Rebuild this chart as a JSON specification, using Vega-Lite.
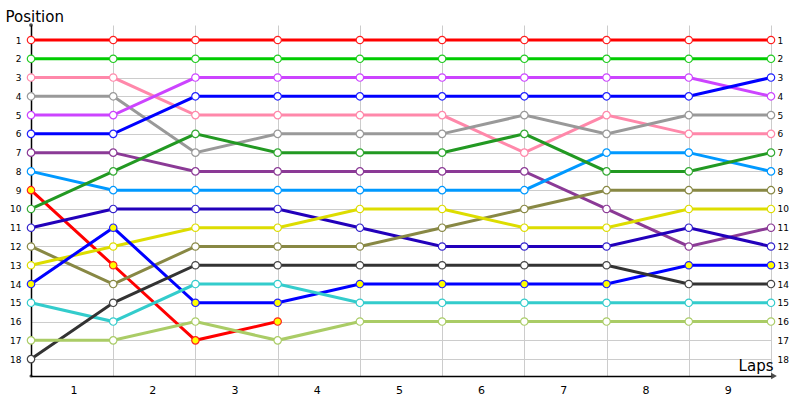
{
  "$schema": "https://vega.github.io/schema/vega-lite/v6.json",
  "width": 740,
  "height": 351,
  "autosize": {"type": "none"},
  "padding": {"left": 31, "top": 25, "right": 29, "bottom": 24},
  "background": "white",
  "config": {
    "view": {"stroke": null},
    "font": "DejaVu Sans",
    "axis": {"labelColor": "black", "titleColor": "black", "titleFontWeight": "normal"}
  },
  "data": {
    "values": [
      {"car": "c01", "lap": 0, "pos": 1}, {"car": "c01", "lap": 1, "pos": 1}, {"car": "c01", "lap": 2, "pos": 1}, {"car": "c01", "lap": 3, "pos": 1}, {"car": "c01", "lap": 4, "pos": 1},
      {"car": "c01", "lap": 5, "pos": 1}, {"car": "c01", "lap": 6, "pos": 1}, {"car": "c01", "lap": 7, "pos": 1}, {"car": "c01", "lap": 8, "pos": 1}, {"car": "c01", "lap": 9, "pos": 1},
      {"car": "c02", "lap": 0, "pos": 2}, {"car": "c02", "lap": 1, "pos": 2}, {"car": "c02", "lap": 2, "pos": 2}, {"car": "c02", "lap": 3, "pos": 2}, {"car": "c02", "lap": 4, "pos": 2},
      {"car": "c02", "lap": 5, "pos": 2}, {"car": "c02", "lap": 6, "pos": 2}, {"car": "c02", "lap": 7, "pos": 2}, {"car": "c02", "lap": 8, "pos": 2}, {"car": "c02", "lap": 9, "pos": 2},
      {"car": "c03", "lap": 0, "pos": 3}, {"car": "c03", "lap": 1, "pos": 3}, {"car": "c03", "lap": 2, "pos": 5}, {"car": "c03", "lap": 3, "pos": 5}, {"car": "c03", "lap": 4, "pos": 5},
      {"car": "c03", "lap": 5, "pos": 5}, {"car": "c03", "lap": 6, "pos": 7}, {"car": "c03", "lap": 7, "pos": 5}, {"car": "c03", "lap": 8, "pos": 6}, {"car": "c03", "lap": 9, "pos": 6},
      {"car": "c04", "lap": 0, "pos": 4}, {"car": "c04", "lap": 1, "pos": 4}, {"car": "c04", "lap": 2, "pos": 7}, {"car": "c04", "lap": 3, "pos": 6}, {"car": "c04", "lap": 4, "pos": 6},
      {"car": "c04", "lap": 5, "pos": 6}, {"car": "c04", "lap": 6, "pos": 5}, {"car": "c04", "lap": 7, "pos": 6}, {"car": "c04", "lap": 8, "pos": 5}, {"car": "c04", "lap": 9, "pos": 5},
      {"car": "c05", "lap": 0, "pos": 5}, {"car": "c05", "lap": 1, "pos": 5}, {"car": "c05", "lap": 2, "pos": 3}, {"car": "c05", "lap": 3, "pos": 3}, {"car": "c05", "lap": 4, "pos": 3},
      {"car": "c05", "lap": 5, "pos": 3}, {"car": "c05", "lap": 6, "pos": 3}, {"car": "c05", "lap": 7, "pos": 3}, {"car": "c05", "lap": 8, "pos": 3}, {"car": "c05", "lap": 9, "pos": 4},
      {"car": "c06", "lap": 0, "pos": 6}, {"car": "c06", "lap": 1, "pos": 6}, {"car": "c06", "lap": 2, "pos": 4}, {"car": "c06", "lap": 3, "pos": 4}, {"car": "c06", "lap": 4, "pos": 4},
      {"car": "c06", "lap": 5, "pos": 4}, {"car": "c06", "lap": 6, "pos": 4}, {"car": "c06", "lap": 7, "pos": 4}, {"car": "c06", "lap": 8, "pos": 4}, {"car": "c06", "lap": 9, "pos": 3},
      {"car": "c07", "lap": 0, "pos": 7}, {"car": "c07", "lap": 1, "pos": 7}, {"car": "c07", "lap": 2, "pos": 8}, {"car": "c07", "lap": 3, "pos": 8}, {"car": "c07", "lap": 4, "pos": 8},
      {"car": "c07", "lap": 5, "pos": 8}, {"car": "c07", "lap": 6, "pos": 8}, {"car": "c07", "lap": 7, "pos": 10}, {"car": "c07", "lap": 8, "pos": 12}, {"car": "c07", "lap": 9, "pos": 11},
      {"car": "c08", "lap": 0, "pos": 8}, {"car": "c08", "lap": 1, "pos": 9}, {"car": "c08", "lap": 2, "pos": 9}, {"car": "c08", "lap": 3, "pos": 9}, {"car": "c08", "lap": 4, "pos": 9},
      {"car": "c08", "lap": 5, "pos": 9}, {"car": "c08", "lap": 6, "pos": 9}, {"car": "c08", "lap": 7, "pos": 7}, {"car": "c08", "lap": 8, "pos": 7}, {"car": "c08", "lap": 9, "pos": 8},
      {"car": "c09", "lap": 0, "pos": 9, "pit": true}, {"car": "c09", "lap": 1, "pos": 13, "pit": true}, {"car": "c09", "lap": 2, "pos": 17, "pit": true}, {"car": "c09", "lap": 3, "pos": 16, "pit": true},
      {"car": "c10", "lap": 0, "pos": 10}, {"car": "c10", "lap": 1, "pos": 8}, {"car": "c10", "lap": 2, "pos": 6}, {"car": "c10", "lap": 3, "pos": 7}, {"car": "c10", "lap": 4, "pos": 7},
      {"car": "c10", "lap": 5, "pos": 7}, {"car": "c10", "lap": 6, "pos": 6}, {"car": "c10", "lap": 7, "pos": 8}, {"car": "c10", "lap": 8, "pos": 8}, {"car": "c10", "lap": 9, "pos": 7},
      {"car": "c11", "lap": 0, "pos": 11}, {"car": "c11", "lap": 1, "pos": 10}, {"car": "c11", "lap": 2, "pos": 10}, {"car": "c11", "lap": 3, "pos": 10}, {"car": "c11", "lap": 4, "pos": 11},
      {"car": "c11", "lap": 5, "pos": 12}, {"car": "c11", "lap": 6, "pos": 12}, {"car": "c11", "lap": 7, "pos": 12}, {"car": "c11", "lap": 8, "pos": 11}, {"car": "c11", "lap": 9, "pos": 12},
      {"car": "c12", "lap": 0, "pos": 12}, {"car": "c12", "lap": 1, "pos": 14}, {"car": "c12", "lap": 2, "pos": 12}, {"car": "c12", "lap": 3, "pos": 12}, {"car": "c12", "lap": 4, "pos": 12},
      {"car": "c12", "lap": 5, "pos": 11}, {"car": "c12", "lap": 6, "pos": 10}, {"car": "c12", "lap": 7, "pos": 9}, {"car": "c12", "lap": 8, "pos": 9}, {"car": "c12", "lap": 9, "pos": 9},
      {"car": "c13", "lap": 0, "pos": 13}, {"car": "c13", "lap": 1, "pos": 12}, {"car": "c13", "lap": 2, "pos": 11}, {"car": "c13", "lap": 3, "pos": 11}, {"car": "c13", "lap": 4, "pos": 10},
      {"car": "c13", "lap": 5, "pos": 10}, {"car": "c13", "lap": 6, "pos": 11}, {"car": "c13", "lap": 7, "pos": 11}, {"car": "c13", "lap": 8, "pos": 10}, {"car": "c13", "lap": 9, "pos": 10},
      {"car": "c14", "lap": 0, "pos": 14, "pit": true}, {"car": "c14", "lap": 1, "pos": 11, "pit": true}, {"car": "c14", "lap": 2, "pos": 15, "pit": true}, {"car": "c14", "lap": 3, "pos": 15, "pit": true}, {"car": "c14", "lap": 4, "pos": 14, "pit": true},
      {"car": "c14", "lap": 5, "pos": 14, "pit": true}, {"car": "c14", "lap": 6, "pos": 14, "pit": true}, {"car": "c14", "lap": 7, "pos": 14, "pit": true}, {"car": "c14", "lap": 8, "pos": 13, "pit": true}, {"car": "c14", "lap": 9, "pos": 13, "pit": true},
      {"car": "c15", "lap": 0, "pos": 15}, {"car": "c15", "lap": 1, "pos": 16}, {"car": "c15", "lap": 2, "pos": 14}, {"car": "c15", "lap": 3, "pos": 14}, {"car": "c15", "lap": 4, "pos": 15},
      {"car": "c15", "lap": 5, "pos": 15}, {"car": "c15", "lap": 6, "pos": 15}, {"car": "c15", "lap": 7, "pos": 15}, {"car": "c15", "lap": 8, "pos": 15}, {"car": "c15", "lap": 9, "pos": 15},
      {"car": "c16", "lap": 0, "pos": 18}, {"car": "c16", "lap": 1, "pos": 15}, {"car": "c16", "lap": 2, "pos": 13}, {"car": "c16", "lap": 3, "pos": 13}, {"car": "c16", "lap": 4, "pos": 13},
      {"car": "c16", "lap": 5, "pos": 13}, {"car": "c16", "lap": 6, "pos": 13}, {"car": "c16", "lap": 7, "pos": 13}, {"car": "c16", "lap": 8, "pos": 14}, {"car": "c16", "lap": 9, "pos": 14},
      {"car": "c17", "lap": 0, "pos": 17}, {"car": "c17", "lap": 1, "pos": 17}, {"car": "c17", "lap": 2, "pos": 16}, {"car": "c17", "lap": 3, "pos": 17}, {"car": "c17", "lap": 4, "pos": 16},
      {"car": "c17", "lap": 5, "pos": 16}, {"car": "c17", "lap": 6, "pos": 16}, {"car": "c17", "lap": 7, "pos": 16}, {"car": "c17", "lap": 8, "pos": 16}, {"car": "c17", "lap": 9, "pos": 16}
    ]
  },
  "resolve": {"axis": {"y": "independent"}},
  "layer": [
    {
      "mark": {"type": "line", "strokeWidth": 3},
      "encoding": {
        "x": {
          "field": "lap", "type": "quantitative",
          "scale": {"domain": [0, 9], "nice": false, "zero": false},
          "axis": {
            "values": [0, 1, 2, 3, 4, 5, 6, 7, 8, 9],
            "labelExpr": "datum.value < 9 ? '' + (datum.value + 1) : ''",
            "labelOffset": 39, "labelPadding": 8, "labelFontSize": 11,
            "ticks": false, "grid": true, "gridColor": "#cccccc", "gridWidth": 1,
            "domainColor": "black", "domainWidth": 1.5,
            "title": "Laps", "titleFontSize": 15, "titleX": 742, "titleY": -6,
            "titleAlign": "right", "titleBaseline": "alphabetic", "titleAnchor": null
          }
        },
        "y": {
          "field": "pos", "type": "quantitative",
          "scale": {"domain": [0.2, 18.9], "reverse": true, "nice": false, "zero": false},
          "axis": {
            "orient": "left",
            "values": [1, 2, 3, 4, 5, 6, 7, 8, 9, 10, 11, 12, 13, 14, 15, 16, 17, 18],
            "labelFontSize": 9, "labelPadding": 10, "ticks": false,
            "grid": true, "gridColor": "#cccccc", "gridWidth": 1,
            "domainColor": "black", "domainWidth": 1.5,
            "title": "Position", "titleAngle": 0, "titleFontSize": 15,
            "titleX": -26, "titleY": -4, "titleAlign": "left", "titleBaseline": "alphabetic"
          }
        },
        "color": {
          "field": "car", "type": "nominal", "legend": null,
          "scale": {
            "domain": ["c01", "c02", "c03", "c04", "c05", "c06", "c07", "c08", "c09", "c10", "c11", "c12", "c13", "c14", "c15", "c16", "c17"],
            "range": ["#ff0000", "#00cc00", "#ff88aa", "#999999", "#cc44ff", "#0000ff", "#8b3a96", "#0099ff", "#ff0000", "#229922", "#2200bb", "#888844", "#dddd00", "#0000ff", "#33cccc", "#333333", "#aacc66"]
          }
        },
        "order": {"field": "lap"}
      }
    },
    {
      "mark": {"type": "point", "shape": "circle", "filled": true, "size": 55, "strokeWidth": 1.2, "opacity": 1},
      "encoding": {
        "x": {"field": "lap", "type": "quantitative"},
        "y": {
          "field": "pos", "type": "quantitative",
          "axis": {
            "orient": "right",
            "values": [1, 2, 3, 4, 5, 6, 7, 8, 9, 10, 11, 12, 13, 14, 15, 16, 17, 18],
            "labelFontSize": 9, "labelPadding": 6, "ticks": false, "grid": false,
            "domain": false, "title": null
          }
        },
        "stroke": {
          "field": "car", "type": "nominal", "legend": null,
          "scale": {
            "domain": ["c01", "c02", "c03", "c04", "c05", "c06", "c07", "c08", "c09", "c10", "c11", "c12", "c13", "c14", "c15", "c16", "c17"],
            "range": ["#ff2020", "#22cc22", "#ff88aa", "#999999", "#cc44ff", "#2222ff", "#8b3a96", "#0099ff", "#ff2020", "#33aa33", "#3322cc", "#888844", "#dddd00", "#2222ff", "#33cccc", "#444444", "#aacc66"]
          }
        },
        "fill": {"condition": {"test": "datum.pit", "value": "#ffff00"}, "value": "white"}
      }
    },
    {
      "data": {"values": [{}]},
      "mark": {"type": "point", "shape": "triangle-right", "filled": true, "color": "black", "size": 45, "xOffset": 3},
      "encoding": {
        "x": {"datum": 9, "type": "quantitative"},
        "y": {"datum": 18.9, "type": "quantitative", "axis": null}
      }
    },
    {
      "data": {"values": [{}]},
      "mark": {"type": "point", "shape": "circle", "filled": true, "color": "black", "size": 14},
      "encoding": {
        "x": {"datum": 0, "type": "quantitative"},
        "y": {"datum": 0.2, "type": "quantitative", "axis": null}
      }
    },
    {
      "data": {"values": [{}]},
      "mark": {"type": "point", "shape": "circle", "filled": true, "color": "black", "size": 10},
      "encoding": {
        "x": {"datum": 0, "type": "quantitative"},
        "y": {"datum": 18.9, "type": "quantitative", "axis": null}
      }
    }
  ]
}
